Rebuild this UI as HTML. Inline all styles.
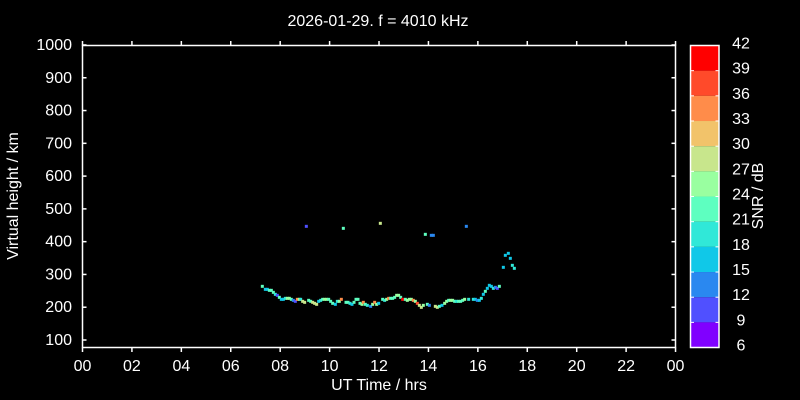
<!DOCTYPE html>
<html><head><meta charset="utf-8"><style>
html,body{margin:0;padding:0;background:#000;}
svg{display:block;font-family:"Liberation Sans",Arial,sans-serif;}
</style></head><body>
<svg id="s" width="800" height="400" viewBox="0 0 800 400" xmlns="http://www.w3.org/2000/svg">
<rect width="800" height="400" fill="#000"/>
<text x="378" y="26" fill="#fff" font-size="16" text-anchor="middle">2026-01-29. f = 4010 kHz</text>
<g id="data"></g>
<rect x="82.5" y="45.5" width="593" height="302" fill="none" stroke="#fff" stroke-width="1.5"/>
<g id="axes" stroke="#fff" stroke-width="1.5"></g>
<g id="labels" fill="#fff" font-size="16"></g>
<text x="18" y="196" fill="#fff" font-size="16" text-anchor="middle" transform="rotate(-90 18 196)">Virtual height / km</text>
<text x="379" y="390" fill="#fff" font-size="16" text-anchor="middle">UT Time / hrs</text>
<g id="cbar"></g>
<text x="763" y="196" fill="#fff" font-size="16" text-anchor="middle" transform="rotate(-90 763 196)">SNR / dB</text>
</svg>
<script>
var NS="http://www.w3.org/2000/svg";
function el(p,t,a,txt){var e=document.createElementNS(NS,t);for(var k in a)e.setAttribute(k,a[k]);if(txt!=null)e.textContent=txt;p.appendChild(e);return e;}
var ax=document.getElementById('axes'),lb=document.getElementById('labels');
for(var h=100;h<=1000;h+=100){var y=340-(h-100)*0.3278;
 el(ax,'line',{x1:82.5,x2:86.5,y1:y,y2:y});el(ax,'line',{x1:675.5,x2:671.5,y1:y,y2:y});
 el(lb,'text',{x:72,y:y+5,'text-anchor':'end'},String(h));}
for(var i=0;i<=12;i++){var x=82.5+i*49.42;var v=(i*2)%24;
 el(ax,'line',{x1:x,x2:x,y1:347.5,y2:352});el(ax,'line',{x1:x,x2:x,y1:45.5,y2:41});
 el(lb,'text',{x:x,y:371,'text-anchor':'middle'},(v<10?'0':'')+v);}
var cols=['#ff0000','#ff4a2a','#ff8c4a','#f2c36a','#c8e68c','#99ffa0','#5effc0','#30e8d8','#10c8e8','#2a88f0','#5050ff','#8000ff'];
var cb=document.getElementById('cbar');
for(var i=0;i<12;i++){var y=45.5+i*25.17;el(cb,'rect',{x:690.5,y:y,width:28.5,height:25.2,fill:cols[i]});}
el(cb,'rect',{x:690.5,y:45.5,width:28.5,height:302,fill:'none',stroke:'#fff','stroke-width':1.5});
for(var i=0;i<=12;i++){var y=45.5+i*25.17;
 el(cb,'line',{x1:690.5,x2:694,y1:y,y2:y,stroke:'#fff'});el(cb,'line',{x1:719,x2:715.5,y1:y,y2:y,stroke:'#fff'});
 el(cb,'text',{x:741,y:y+3,fill:'#fff','font-size':16,'text-anchor':'middle'},String(42-3*i));}
var C={r:'#ff0000',ro:'#ff4a2a',o:'#ff8c4a',y:'#f2c36a',yg:'#c8e68c',lg:'#99ffa0',m:'#5effc0',t:'#30e8d8',c:'#10c8e8',b:'#2a88f0',p:'#5050ff',v:'#8000ff'};
var P=[[37,319,'m'],[46,328,'c'],[52,328,'c'],[58,331,'m'],[64,331,'m'],[70,337,'m'],[76,343,'t'],[82,346,'p'],[88,352,'m'],[94,358,'c'],[100,358,'c'],[106,355,'t'],[112,355,'lg'],[118,355,'lg'],[124,358,'m'],[130,361,'b'],[136,364,'p'],[142,358,'o'],[148,358,'lg'],[152,358,'t'],[158,364,'yg'],[164,367,'yg'],[176,361,'m'],[182,364,'m'],[188,367,'yg'],[194,370,'yg'],[200,373,'yg'],[206,364,'c'],[212,361,'t'],[218,358,'m'],[224,358,'lg'],[230,358,'lg'],[236,358,'m'],[242,364,'m'],[248,370,'m'],[256,373,'c'],[262,364,'t'],[268,364,'lg'],[274,358,'o'],[288,367,'m'],[294,367,'m'],[300,370,'t'],[306,373,'c'],[312,367,'m'],[318,358,'m'],[324,358,'m'],[330,370,'m'],[336,373,'lg'],[340,367,'o'],[346,373,'m'],[352,376,'t'],[362,379,'b'],[368,373,'lg'],[374,367,'o'],[380,373,'lg'],[386,370,'c'],[398,358,'m'],[404,361,'t'],[410,358,'lg'],[416,355,'o'],[422,355,'m'],[428,355,'m'],[434,352,'m'],[440,346,'lg'],[446,346,'lg'],[452,352,'m'],[458,358,'r'],[466,358,'m'],[472,361,'lg'],[478,358,'lg'],[484,358,'lg'],[490,361,'o'],[496,364,'lg'],[502,370,'ro'],[508,376,'yg'],[514,382,'yg'],[520,376,'lg'],[532,373,'m'],[538,376,'b'],[556,379,'yg'],[562,382,'yg'],[568,379,'m'],[576,376,'c'],[584,370,'lg'],[590,364,'lg'],[596,361,'m'],[602,361,'lg'],[608,361,'lg'],[614,364,'m'],[620,364,'t'],[626,364,'m'],[632,364,'m'],[638,361,'m'],[644,358,'lg'],[656,358,'t'],[670,358,'t'],[676,358,'c'],[682,361,'b'],[688,361,'c'],[694,355,'t'],[700,343,'c'],[706,334,'m'],[712,325,'c'],[718,316,'c'],[724,319,'c'],[730,325,'t'],[736,322,'b'],[742,325,'p'],[748,319,'m'],
[169,139,'p'],[280,145,'m'],[391,130,'yg'],[526,163,'m'],[544,166,'b'],[550,166,'b'],[649,139,'b'],[766,226,'c'],[775,220,'c'],[781,235,'c'],[787,256,'t'],[793,265,'t'],[760,262,'c']];
var d=document.getElementById('data');
P.forEach(function(q){el(d,'rect',{x:250+q[0]/3-1.5,y:180+q[1]/3-1.5,width:3,height:3,fill:C[q[2]]});});
</script>
</body></html>
